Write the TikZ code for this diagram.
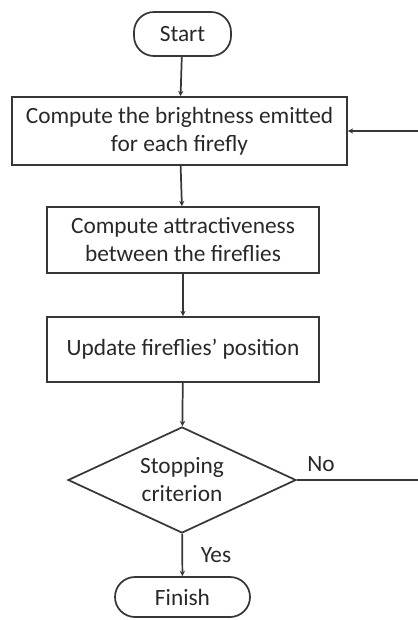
\documentclass[tikz,border=0pt]{standalone}
\usepackage{fontspec}
\setmainfont{Carlito}
\usetikzlibrary{arrows.meta}
\usetikzlibrary{shapes.geometric}

\definecolor{linegray}{RGB}{55,55,55}
\definecolor{textgray}{RGB}{40,40,40}

\begin{document}
\begin{tikzpicture}[x=0.75pt,y=0.75pt,yscale=-1,xscale=1,
  every node/.style={text=textgray,font=\fontsize{17.5}{21}\selectfont},
  stepbox/.style={draw=linegray,line width=1.3pt,align=center,inner sep=0pt},
  termbox/.style={stepbox,rounded corners=15pt},
  decide/.style={stepbox,diamond,aspect=2.15},
  arr/.style={draw=linegray,line width=1.3pt,-{Stealth[length=4pt,width=4pt]}}]
\useasboundingbox (0,0) rectangle (417,620);

%Shape: Start
\node [termbox,minimum width=72.75pt,minimum height=33pt] (start) at (182.5,34) {Start};
%Shape: Rectangle brightness
\node [stepbox,minimum width=251.25pt,minimum height=51pt] (bright) at (179.5,131) {Compute the brightness emitted\\for each firefly};
%Shape: Rectangle attractiveness
\node [stepbox,minimum width=204pt,minimum height=49.5pt] (attract) at (183,240) {Compute attractiveness\\between the fireflies};
%Shape: Rectangle update
\node [stepbox,minimum width=204pt,minimum height=48.75pt] (update) at (183,349.5) {Update fireflies' position};
%Shape: Diamond
\node [decide,minimum width=171pt,minimum height=79.5pt] (stop) at (182,480) {Stopping\\criterion};
%Shape: Finish
\node [termbox,minimum width=101.25pt,minimum height=30pt] (finish) at (182.5,597) {Finish};

%Straight Lines
\draw [arr] (start) -- (bright);
\draw [arr] (bright) -- (attract);
\draw [arr] (attract) -- (update);
\draw [arr] (update) -- (stop);
\draw [arr] (stop) -- (finish);
%Loop back
\coordinate (back) at (420,480);
\draw [arr] (stop.east) -- (back) |- (bright.east);

% Text Node
\node (no) at (321,464) {No};
% Text Node
\node (yes) at (216,555) {Yes};

\end{tikzpicture}
\end{document}
